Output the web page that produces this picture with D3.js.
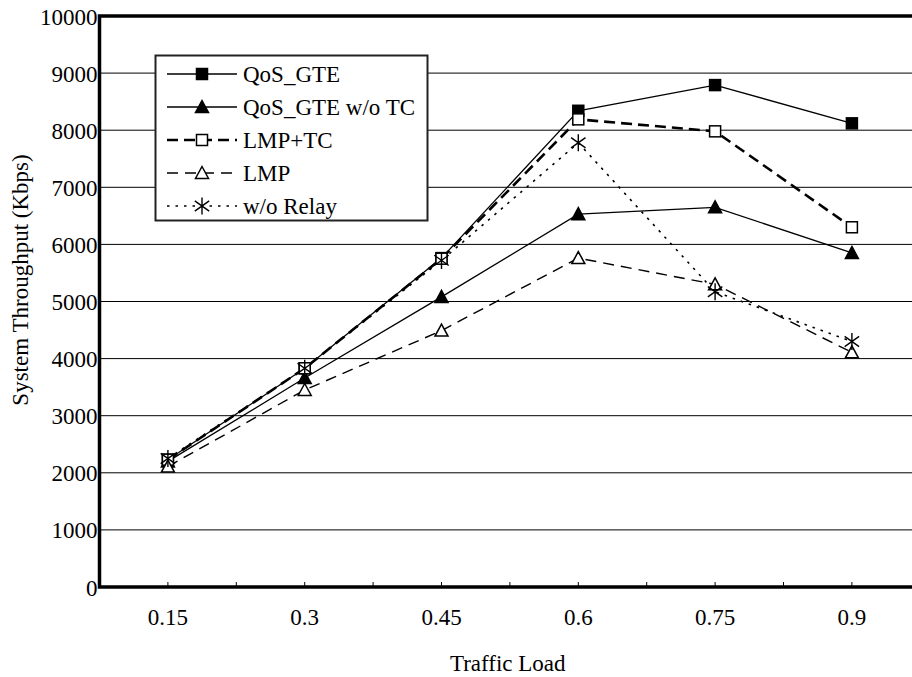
<!DOCTYPE html>
<html>
<head>
<meta charset="utf-8">
<script src="https://cdn.jsdelivr.net/npm/d3@7"></script>
<style>
  html, body { margin: 0; padding: 0; background: #fff; }
  svg { display: block; }
  text { font-family: "Liberation Serif", "Times New Roman", serif; fill: #000; }
</style>
</head>
<body>
<svg id="chart" width="912" height="677"></svg>
<script>
const categories = ["0.15", "0.3", "0.45", "0.6", "0.75", "0.9"];
const yTicks = [0, 1000, 2000, 3000, 4000, 5000, 6000, 7000, 8000, 9000, 10000];
const seriesNames = ["QoS_GTE", "QoS_GTE w/o TC", "LMP+TC", "LMP", "w/o Relay"];
const qosGte      = [2230, 3830, 5760, 8340, 8790, 8120];
const qosGteNoTc  = [2200, 3660, 5080, 6530, 6650, 5850];
const lmpTc       = [2230, 3830, 5750, 8190, 7980, 6300];
const lmp         = [2110, 3450, 4490, 5760, 5300, 4110];
const noRelay     = [2250, 3830, 5720, 7780, 5170, 4300];
const xTitle = "Traffic Load";
const yTitle = "System Throughput (Kbps)";

const series = [
  { name: seriesNames[0], values: qosGte,     width: 1.3, dash: null,    marker: "square",   fill: "#000" },
  { name: seriesNames[1], values: qosGteNoTc, width: 1.3, dash: null,    marker: "triangle", fill: "#000" },
  { name: seriesNames[2], values: lmpTc,      width: 2.6, dash: "11,6",  marker: "square",   fill: "#fff" },
  { name: seriesNames[3], values: lmp,        width: 1.4, dash: "11,7",  marker: "triangle", fill: "#fff" },
  { name: seriesNames[4], values: noRelay,    width: 1.6, dash: "2.5,6", marker: "star",     fill: "none" }
];

const svg = d3.select("#chart");
const pLeft = 99.5, pTop = 16, pBottom = 587, pRight = 99.5 + 136.8 * 6;

const x = d3.scaleBand().domain(categories).range([pLeft, pRight]).padding(0);
const xc = c => x(c) + x.bandwidth() / 2;
const y = d3.scaleLinear().domain([0, 10000]).range([pBottom, pTop]);

// gridlines
svg.append("g").selectAll("line").data(yTicks.filter(t => t > 0 && t < 10000)).join("line")
  .attr("x1", pLeft).attr("x2", 912).attr("y1", d => y(d)).attr("y2", d => y(d))
  .attr("stroke", "#000").attr("stroke-width", 1);

// y axis labels via d3 axis
const yAxis = svg.append("g").attr("transform", `translate(${pLeft},0)`)
  .call(d3.axisLeft(y).tickValues(yTicks).tickSize(0).tickPadding(2).tickFormat(d3.format("d")));
yAxis.select(".domain").remove();
yAxis.selectAll("text").attr("font-size", 23).attr("dy", "0.35em");

// x axis: minor ticks at half-bands pointing up
const halfTicks = d3.range(0, 13).map(i => pLeft + i * x.bandwidth() / 2);
svg.append("g").selectAll("line").data(halfTicks).join("line")
  .attr("x1", d => d).attr("x2", d => d).attr("y1", pBottom).attr("y2", pBottom - 5)
  .attr("stroke", "#000").attr("stroke-width", 1);

const xAxis = svg.append("g").attr("transform", `translate(0,${pBottom})`)
  .call(d3.axisBottom(x).tickSize(0).tickPadding(22));
xAxis.select(".domain").remove();
xAxis.selectAll("text").attr("font-size", 23);

// frame: left, bottom, top thick
svg.append("path")
  .attr("d", `M${pRight},${pTop} H${pLeft} V${pBottom} H${pRight}`)
  .attr("fill", "none").attr("stroke", "#000").attr("stroke-width", 3.5);

// lines
const line = d3.line().x((d, i) => xc(categories[i])).y(d => y(d));
series.forEach(s => {
  svg.append("path").datum(s.values)
    .attr("d", line).attr("fill", "none").attr("stroke", "#000")
    .attr("stroke-width", s.width)
    .attr("stroke-dasharray", s.dash);
});

function drawMarker(g, type, cx, cy, fill) {
  if (type === "square") {
    g.append("rect").attr("x", cx - 5.5).attr("y", cy - 5.5).attr("width", 11).attr("height", 11)
      .attr("fill", fill).attr("stroke", "#000").attr("stroke-width", 1.5);
  } else if (type === "triangle") {
    g.append("path").attr("d", `M${cx},${cy - 6.5} L${cx + 6.5},${cy + 5.5} L${cx - 6.5},${cy + 5.5} Z`)
      .attr("fill", fill).attr("stroke", "#000").attr("stroke-width", 1.5);
  } else {
    const r = 8.5;
    g.append("path")
      .attr("d", `M${cx},${cy - r} V${cy + r} M${cx - r * 0.85},${cy - r * 0.6} L${cx + r * 0.85},${cy + r * 0.6} M${cx - r * 0.85},${cy + r * 0.6} L${cx + r * 0.85},${cy - r * 0.6}`)
      .attr("fill", "none").attr("stroke", "#000").attr("stroke-width", 1.4);
  }
}

series.forEach(s => {
  const g = svg.append("g");
  s.values.forEach((v, i) => drawMarker(g, s.marker, xc(categories[i]), y(v), s.fill));
});

// legend
const lg = svg.append("g");
lg.append("rect").attr("x", 155.5).attr("y", 55.5).attr("width", 272).attr("height", 165)
  .attr("fill", "#fff").attr("stroke", "#222").attr("stroke-width", 2);
series.forEach((s, i) => {
  const cy = 74 + i * 33;
  lg.append("line").attr("x1", 167).attr("x2", 237).attr("y1", cy).attr("y2", cy)
    .attr("stroke", "#000").attr("stroke-width", s.width).attr("stroke-dasharray", s.dash);
  drawMarker(lg, s.marker, 202, cy, s.fill);
  lg.append("text").attr("x", 243).attr("y", cy + 8).attr("font-size", 23).text(s.name);
});

// axis titles
svg.append("text").attr("x", (pLeft + 912) / 2 + 2).attr("y", 671).attr("text-anchor", "middle")
  .attr("font-size", 23).text(xTitle);
svg.append("text").attr("transform", "translate(28,280) rotate(-90)").attr("text-anchor", "middle")
  .attr("font-size", 23).text(yTitle);
</script>
</body>
</html>
